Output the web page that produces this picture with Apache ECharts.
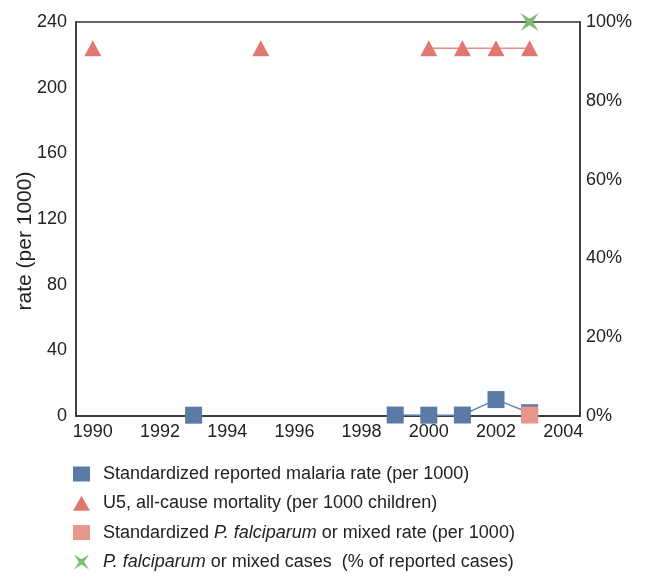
<!DOCTYPE html>
<html>
<head>
<meta charset="utf-8">
<script src="https://cdn.jsdelivr.net/npm/echarts@6/dist/echarts.min.js"></script>
<style>
  html, body { margin: 0; padding: 0; background: #fff; }
  #chart { width: 648px; height: 577px; }
</style>
</head>
<body>
<div id="chart"></div>
<script>
// Years covered by the series (one slot per year; null = no observation)
const years = [1990, 1991, 1992, 1993, 1994, 1995, 1996, 1997, 1998, 1999, 2000, 2001, 2002, 2003];

// Standardized reported malaria rate (per 1000)
const reportedRate = [null, null, null, 0.5, null, null, null, null, null, 0.6, 0.5, 0.6, 10, 2];
// U5, all-cause mortality (per 1000 children)
const u5Mortality = [224, null, null, null, null, 224, null, null, null, null, 224, 224, 224, 224];
// Standardized P. falciparum or mixed rate (per 1000)
const pfRate = [null, null, null, null, null, null, null, null, null, null, null, null, null, 0.6];
// P. falciparum or mixed cases (% of reported cases)
const pfShare = [null, null, null, null, null, null, null, null, null, null, null, null, null, 100];

const leftTicks = [0, 40, 80, 120, 160, 200, 240];
const rightTicks = [0, 20, 40, 60, 80, 100];
const xTicks = [1990, 1992, 1994, 1996, 1998, 2000, 2002, 2004];

const names = [
  'Standardized reported malaria rate (per 1000)',
  'U5, all-cause mortality (per 1000 children)',
  'Standardized P. falciparum or mixed rate (per 1000)',
  'P. falciparum or mixed cases  (% of reported cases)'
];
// Legend labels as rich text: a small leading spacer, species name in italics
const legendText = {};
legendText[names[0]] = '{s| }' + names[0];
legendText[names[1]] = '{s| }' + names[1];
legendText[names[2]] = '{s| }Standardized {i|P. falciparum} or mixed rate (per 1000)';
legendText[names[3]] = '{s| }{i|P. falciparum} or mixed cases  (% of reported cases)';

const starPath = 'path://M0,0 L10,6.5 L20,0 L13.5,10 L20,20 L10,13.5 L0,20 L6.5,10 Z';

const pairs = arr => years.map((y, i) => [y, arr[i]]);

const FONT = '"Liberation Sans", Arial, Helvetica, sans-serif';
const axisColor = '#333';
const textColor = '#222';

const chart = echarts.init(document.getElementById('chart'), null, { renderer: 'canvas' });
chart.setOption({
  animation: false,
  textStyle: { fontFamily: FONT },
  grid: {
    left: 76, right: 68, top: 22, bottom: 161,
    show: true, borderColor: axisColor, borderWidth: 1.5, backgroundColor: 'transparent'
  },
  graphic: [{
    type: 'text',
    x: 25, y: 241,
    rotation: Math.PI / 2,
    style: {
      text: 'rate (per 1000)',
      fill: textColor,
      font: '21px ' + FONT,
      align: 'center',
      verticalAlign: 'middle'
    }
  }],
  xAxis: {
    type: 'value',
    min: 1989.5, max: 2004.5,
    interval: 0.5,
    axisLine: { show: true, lineStyle: { color: axisColor, width: 1.5 } },
    axisTick: { show: false },
    splitLine: { show: false },
    axisLabel: {
      color: textColor, fontSize: 18, margin: 7, fontFamily: FONT,
      showMinLabel: true, showMaxLabel: true,
      formatter: v => (xTicks.indexOf(v) >= 0 ? String(v) : '')
    }
  },
  yAxis: [
    {
      type: 'value', min: 0, max: 240, interval: 40,
      axisLine: { show: true, lineStyle: { color: axisColor, width: 1.5 } },
      axisTick: { show: false },
      splitLine: { show: false },
      axisLabel: {
        color: textColor, fontSize: 18, margin: 9, fontFamily: FONT,
        formatter: v => (leftTicks.indexOf(v) >= 0 ? String(v) : '')
      }
    },
    {
      type: 'value', min: 0, max: 100, interval: 20, position: 'right',
      axisLine: { show: true, lineStyle: { color: axisColor, width: 1.5 } },
      axisTick: { show: false },
      splitLine: { show: false },
      axisLabel: {
        color: textColor, fontSize: 18, margin: 6, fontFamily: FONT,
        formatter: v => (rightTicks.indexOf(v) >= 0 ? v + '%' : '')
      }
    }
  ],
  legend: {
    orient: 'vertical',
    left: 73, top: 465,
    padding: 0,
    itemWidth: 17, itemHeight: 15, itemGap: 11.3,
    data: [
      { name: names[0], icon: 'rect' },
      { name: names[1], icon: 'triangle' },
      { name: names[2], icon: 'rect' },
      { name: names[3], icon: starPath }
    ],
    formatter: n => legendText[n],
    textStyle: {
      color: textColor, fontSize: 18, lineHeight: 18, fontFamily: FONT,
      rich: {
        s: { width: 8, fontSize: 18, lineHeight: 18 },
        i: { fontStyle: 'italic', fontSize: 18, lineHeight: 18, color: textColor, fontFamily: FONT }
      }
    }
  },
  series: [
    {
      name: names[0], type: 'line', yAxisIndex: 0, z: 3,
      data: pairs(reportedRate), connectNulls: false,
      symbol: 'rect', symbolSize: 17,
      itemStyle: { color: '#5b7ba6' },
      lineStyle: { color: '#6a88b2', width: 1.5 },
      clip: false
    },
    {
      name: names[1], type: 'line', yAxisIndex: 0, z: 4,
      data: pairs(u5Mortality), connectNulls: false,
      symbol: 'triangle', symbolSize: [17, 16],
      itemStyle: { color: '#e07870' },
      lineStyle: { color: '#e98a84', width: 1.5 },
      clip: false
    },
    {
      name: names[2], type: 'line', yAxisIndex: 0, z: 5,
      data: pairs(pfRate), connectNulls: false,
      symbol: 'rect', symbolSize: 17,
      itemStyle: { color: '#e8968b' },
      lineStyle: { color: '#e8968b', width: 1.5 },
      clip: false
    },
    {
      name: names[3], type: 'line', yAxisIndex: 1, z: 6,
      data: pairs(pfShare), connectNulls: false,
      symbol: starPath, symbolSize: 18,
      itemStyle: { color: '#7dbb74' },
      lineStyle: { color: '#7dbb74', width: 1.5 },
      clip: false
    }
  ]
});
</script>
</body>
</html>
